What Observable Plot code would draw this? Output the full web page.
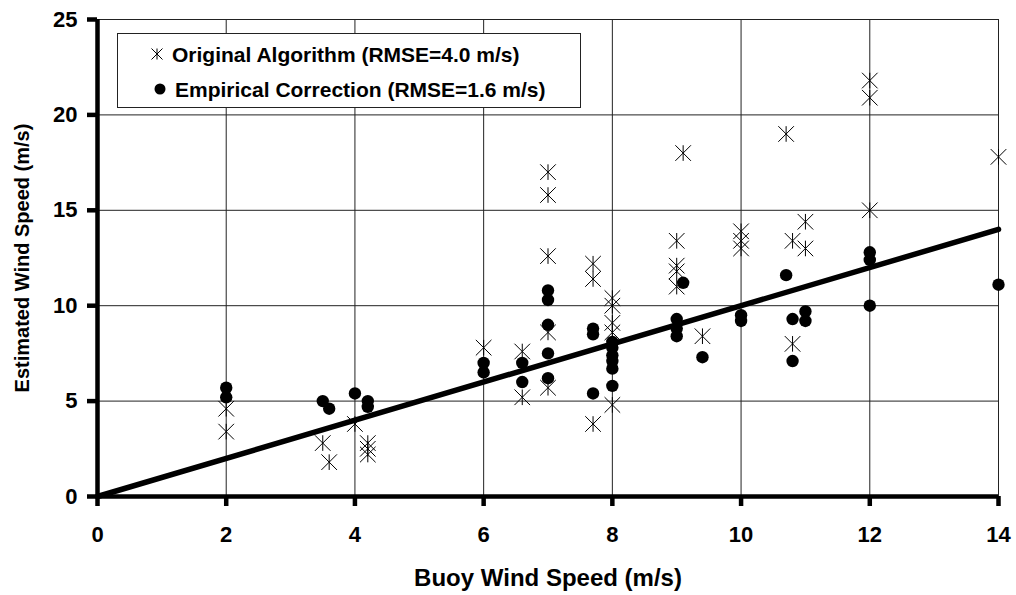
<!DOCTYPE html>
<html>
<head>
<meta charset="utf-8">
<script src="https://cdn.jsdelivr.net/npm/d3@7"></script>
<script src="https://cdn.jsdelivr.net/npm/@observablehq/plot@0.6"></script>
<style>
  html, body { margin: 0; padding: 0; background: #fff; }
  #wrap { position: relative; width: 1016px; height: 595px; font-family: "Liberation Sans", Arial, sans-serif; }
  #legend {
    position: absolute; left: 117px; top: 33px; width: 464px; height: 75px;
    background: #fff; border: 1px solid #222; box-sizing: border-box;
    font-weight: bold; font-size: 21px; color: #000;
  }
  .mk { position: absolute; transform: translate(-50%, -50%); }
  .tx { position: absolute; transform: translateY(-50%); white-space: nowrap; line-height: 1; }
</style>
</head>
<body>
<div id="wrap">
  <div id="chart"></div>
  <div id="legend">
    <svg class="mk" style="left:39px;top:20px" width="14" height="14" viewBox="-7 -7 14 14"><path d="M-5.5,-5.5L5.5,5.5M-5.5,5.5L5.5,-5.5M0,-5.5L0,5.5" stroke="#000" stroke-width="1" fill="none"/></svg>
    <span class="tx" id="l1" style="left:54px;top:20px"></span>
    <svg class="mk" style="left:42px;top:55px" width="14" height="14" viewBox="-7 -7 14 14"><circle r="5.5" fill="#000"/></svg>
    <span class="tx" id="l2" style="left:57px;top:55px"></span>
  </div>
</div>
<script>
// ---- data ----
const seriesNames = ["Original Algorithm (RMSE=4.0 m/s)", "Empirical Correction (RMSE=1.6 m/s)"];
const xLabel = "Buoy Wind Speed (m/s)";
const yLabel = "Estimated Wind Speed (m/s)";
const xTicks = [0, 2, 4, 6, 8, 10, 12, 14];
const yTicks = [0, 5, 10, 15, 20, 25];

// Original algorithm (star markers)
const origX = [2, 2, 3.5, 3.6, 4.0, 4.2, 4.2, 4.2,
  6, 6.6, 6.6,
  7, 7, 7, 7, 7,
  7.7, 7.7, 7.7,
  8, 8, 8, 8, 8,
  9, 9, 9, 9, 9.1, 9.4,
  10, 10, 10, 10.7, 10.8, 10.8, 11, 11,
  12, 12, 12, 14];
const origY = [4.6, 3.4, 2.8, 1.8, 3.8, 2.8, 2.5, 2.2,
  7.8, 7.6, 5.2,
  17.0, 15.8, 12.6, 8.6, 5.7,
  12.2, 11.4, 3.8,
  10.4, 10.0, 9.1, 8.6, 4.8,
  13.4, 12.1, 11.8, 11.0, 18.0, 8.4,
  13.9, 13.4, 13.0, 19.0, 13.4, 8.0, 14.4, 13.0,
  21.8, 20.9, 15.0, 17.8];

// Empirical correction (filled circles)
const corrX = [2, 2, 3.5, 3.6, 4.0, 4.2, 4.2,
  6, 6, 6.6, 6.6,
  7, 7, 7, 7, 7,
  7.7, 7.7, 7.7,
  8, 8, 8, 8, 8, 8,
  9, 9, 9, 9.1, 9.4,
  10, 10, 10.7, 10.8, 10.8, 11, 11,
  12, 12, 12, 14];
const corrY = [5.7, 5.2, 5.0, 4.6, 5.4, 5.0, 4.7,
  7.0, 6.5, 7.0, 6.0,
  10.8, 10.3, 9.0, 7.5, 6.2,
  8.8, 8.5, 5.4,
  8.1, 7.8, 7.4, 7.1, 6.7, 5.8,
  9.3, 8.8, 8.4, 11.2, 7.3,
  9.5, 9.2, 11.6, 9.3, 7.1, 9.7, 9.2,
  12.8, 12.4, 10.0, 11.1];

// 1:1 reference line
const refX = [0, 14];
const refY = [0, 14];

// ---- build tables ----
const orig = origX.map((x, i) => ({x, y: origY[i]}));
const corr = corrX.map((x, i) => ({x, y: corrY[i]}));
const ref = refX.map((x, i) => ({x, y: refY[i]}));

const star = {
  draw(ctx, size) {
    const r = 7.8;
    ctx.moveTo(-r, -r); ctx.lineTo(r, r);
    ctx.moveTo(-r, r); ctx.lineTo(r, -r);
    ctx.moveTo(0, -r); ctx.lineTo(0, r);
  }
};

document.getElementById("l1").textContent = seriesNames[0];
document.getElementById("l2").textContent = seriesNames[1];

const chart = Plot.plot({
  width: 1016,
  height: 595,
  marginLeft: 97,
  marginRight: 18,
  marginTop: 19,
  marginBottom: 99,
  style: {fontFamily: "'Liberation Sans', Arial, sans-serif", fontWeight: "bold", fontSize: "22px", color: "#000", background: "#fff"},
  x: {domain: [0, 14]},
  y: {domain: [0, 25]},
  marks: [
    Plot.gridX(xTicks, {stroke: "#222", strokeOpacity: 1, strokeWidth: 1}),
    Plot.gridY(yTicks, {stroke: "#222", strokeOpacity: 1, strokeWidth: 1}),
    Plot.axisX({ticks: xTicks, tickSize: 10, tickPadding: 20, strokeWidth: 4.5, fontSize: 22, fontWeight: "bold", label: null}),
    Plot.axisX({ticks: [], label: xLabel, labelAnchor: "center", labelArrow: "none", labelOffset: 89, fontSize: 24, fontWeight: "bold"}),
    Plot.axisY({ticks: yTicks, tickSize: 10, tickPadding: 10, strokeWidth: 4.5, fontSize: 22, fontWeight: "bold", label: null}),
    Plot.axisY({ticks: [], label: yLabel, labelAnchor: "center", labelArrow: "none", labelOffset: 83, fontSize: 20, fontWeight: "bold"}),
    Plot.ruleX([0], {strokeWidth: 4.5, stroke: "#000"}),
    Plot.ruleY([0], {strokeWidth: 4.5, stroke: "#000"}),
    Plot.line(ref, {x: "x", y: "y", stroke: "#000", strokeWidth: 5.5}),
    Plot.dot(orig, {x: "x", y: "y", symbol: star, fill: "none", stroke: "#000", strokeWidth: 1}),
    Plot.dot(corr, {x: "x", y: "y", r: 6.2, fill: "#000", stroke: "none"})
  ]
});
document.getElementById("chart").appendChild(chart);
</script>
</body>
</html>
